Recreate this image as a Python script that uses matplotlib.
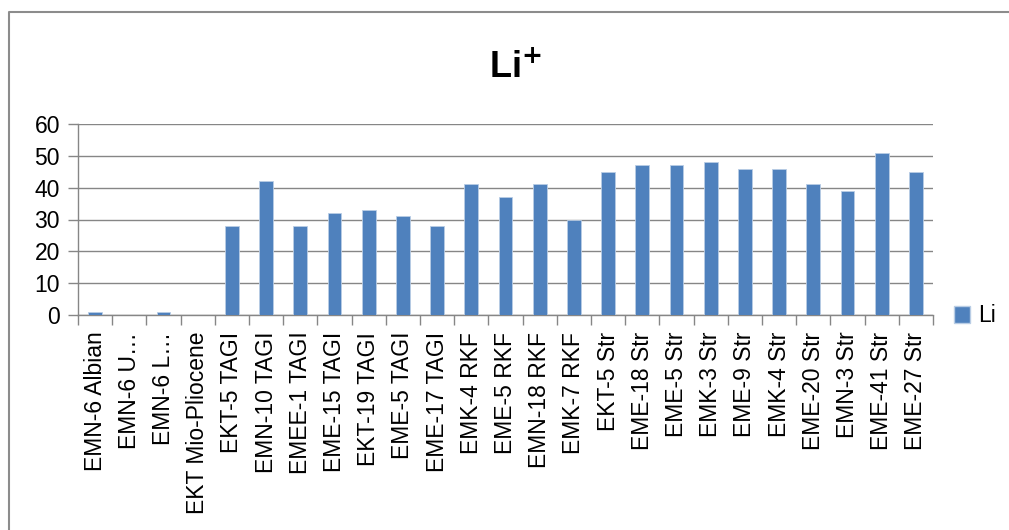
import matplotlib
matplotlib.use("Agg")
import matplotlib.pyplot as plt
from matplotlib.lines import Line2D
from matplotlib.patches import Patch

categories = [
    "EMN-6 Albian", "EMN-6 U…", "EMN-6 L…", "EKT Mio-Pliocene",
    "EKT-5 TAGI", "EMN-10 TAGI", "EMEE-1 TAGI", "EME-15 TAGI",
    "EKT-19 TAGI", "EME-5 TAGI", "EME-17 TAGI", "EMK-4 RKF",
    "EME-5 RKF", "EMN-18 RKF", "EMK-7 RKF", "EKT-5 Str",
    "EME-18 Str", "EME-5 Str", "EMK-3 Str", "EME-9 Str",
    "EMK-4 Str", "EME-20 Str", "EMN-3 Str", "EME-41 Str", "EME-27 Str",
]
li_values = [1, 0, 1, 0, 28, 42, 28, 32, 33, 31, 28, 41, 37, 41, 30,
             45, 47, 47, 48, 46, 46, 41, 39, 51, 45]
y_ticks = [0, 10, 20, 30, 40, 50, 60]

plt.rcParams["font.family"] = ["Liberation Sans", "DejaVu Sans"]

W, H = 1009, 530
fig = plt.figure(figsize=(W / 100, H / 100), dpi=100)
ax = fig.add_axes([78 / W, 1 - 315 / H, (933 - 78) / W, (315 - 124) / H])

bar_color = "#4F81BD"
grid_color = "#868686"

x = list(range(len(categories)))
ax.bar(x, li_values, width=0.4, color=bar_color, edgecolor="#b9cde5",
       linewidth=0.6, zorder=3, label="Li")

ax.set_xlim(-0.5, len(categories) - 0.5)
ax.set_ylim(0, 60)
ax.set_yticks(y_ticks)
ax.set_yticklabels([str(v) for v in y_ticks], fontsize=16.5)
ax.yaxis.grid(True, color=grid_color, linewidth=1.0, zorder=0)
ax.tick_params(axis="y", length=7, color=grid_color, width=1.0, pad=6)

# category labels centred on bars, tick marks between categories
ax.set_xticks(x)
ax.set_xticklabels(categories, rotation=90, fontsize=16.5)
ax.tick_params(axis="x", length=0, pad=12)
ax.set_xticks([i - 0.5 for i in range(len(categories) + 1)], minor=True)
ax.tick_params(axis="x", which="minor", length=7, color=grid_color, width=1.0)

for side in ["top", "right"]:
    ax.spines[side].set_visible(False)
for side in ["left", "bottom"]:
    ax.spines[side].set_color(grid_color)
    ax.spines[side].set_linewidth(1.0)

fig.text(515 / W, 1 - 77 / H, "Li$^{\\mathbf{+}}$", ha="center", va="baseline",
         fontsize=26, fontweight="bold")

fig.legend(handles=[Patch(facecolor=bar_color, edgecolor="#b9cde5", label="Li")],
           loc="center left", bbox_to_anchor=(954 / W, 1 - 316 / H),
           frameon=False, fontsize=16.5, handlelength=0.7, handleheight=0.7,
           handletextpad=0.35, borderaxespad=0, borderpad=0)

# chart frame (left and top edges)
fig.add_artist(Line2D([8.5 / W, 8.5 / W, 1.0], [0.0, 1 - 11.5 / H, 1 - 11.5 / H],
                      transform=fig.transFigure, color="#8c8c8c", linewidth=1.5))

fig.savefig("out.png", dpi=100, facecolor="white")
